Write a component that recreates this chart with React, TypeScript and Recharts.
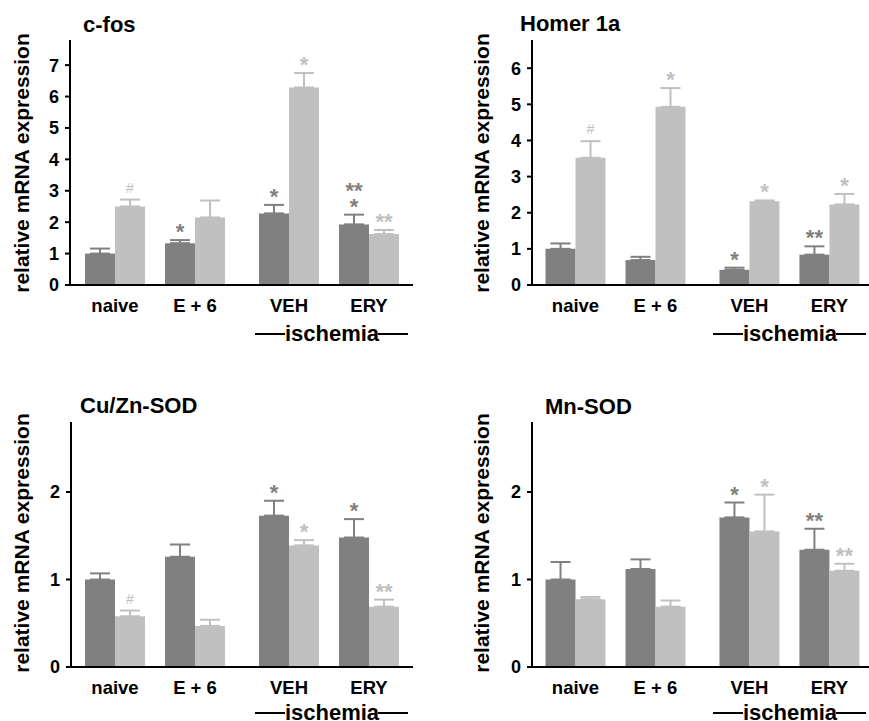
import React from "react";
import { BarChart, Bar, XAxis, YAxis, ErrorBar, LabelList } from "recharts";

const categories = ["naive", "E + 6", "VEH", "ERY"];

// c-fos
const cfosDark = [1.0, 1.33, 2.28, 1.93];
const cfosDarkErr = [0.16, 0.1, 0.27, 0.31];
const cfosLight = [2.5, 2.15, 6.29, 1.62];
const cfosLightErr = [0.22, 0.54, 0.46, 0.13];
const cfosDarkMarks = ["", "*", "*", "**\n*"];
const cfosLightMarks = ["#", "", "*", "**"];

// Homer 1a
const homerDark = [1.0, 0.69, 0.42, 0.84];
const homerDarkErr = [0.15, 0.09, 0.06, 0.23];
const homerLight = [3.52, 4.93, 2.32, 2.23];
const homerLightErr = [0.46, 0.52, 0.02, 0.29];
const homerDarkMarks = ["", "", "*", "**"];
const homerLightMarks = ["#", "*", "*", "*"];

// Cu/Zn-SOD
const cuznDark = [1.0, 1.26, 1.73, 1.48];
const cuznDarkErr = [0.07, 0.14, 0.17, 0.21];
const cuznLight = [0.58, 0.47, 1.39, 0.69];
const cuznLightErr = [0.065, 0.07, 0.06, 0.08];
const cuznDarkMarks = ["", "", "*", "*"];
const cuznLightMarks = ["#", "", "*", "**"];

// Mn-SOD
const mnDark = [1.0, 1.12, 1.71, 1.34];
const mnDarkErr = [0.2, 0.11, 0.17, 0.24];
const mnLight = [0.775, 0.69, 1.55, 1.1];
const mnLightErr = [0.025, 0.07, 0.42, 0.08];
const mnDarkMarks = ["", "", "*", "**"];
const mnLightMarks = ["", "", "*", "**"];

// layout: group centres on the x axis (the ischemia pair sits a bit further out)
const groupPos = [0, 1, 2.175, 3.175];

const FONT = "'Liberation Sans', Arial, Helvetica, sans-serif";
const DARK = "#808080";
const LIGHT = "#c0c0c0";

const makeRows = (dark: number[], darkErr: number[], light: number[], lightErr: number[], darkMarks: string[], lightMarks: string[]) =>
  categories.map((name, i) => ({
    name,
    pos: groupPos[i],
    dark: dark[i],
    darkErr: [0, darkErr[i]],
    light: light[i],
    lightErr: [0, lightErr[i]],
    darkMark: darkMarks[i],
    lightMark: lightMarks[i],
  }));

const makeMark = (values: number[], errs: number[], color: string) => (props: any) => {
  const vb = props.viewBox || {};
  const x = props.x ?? vb.x;
  const y = props.y ?? vb.y;
  const w = props.width ?? vb.width;
  const h = props.height ?? vb.height;
  const i = props.index;
  const mark = props.value;
  if (!mark || i == null) return null;
  const ppu = h / values[i];
  const top = y - errs[i] * ppu;
  const cx = x + w / 2;
  if (mark === "#") {
    return (
      <text x={cx} y={top - 7} textAnchor="middle" fontSize={14} fill={color} fontFamily={FONT}>
        #
      </text>
    );
  }
  const lines = String(mark).split("\n");
  return (
    <g>
      {lines.map((ln, k) => (
        <text
          key={k}
          x={cx}
          y={top - 1 - (lines.length - 1 - k) * 16}
          textAnchor="middle"
          fontSize={22}
          fontWeight="bold"
          fill={color}
          fontFamily={FONT}
        >
          {ln}
        </text>
      ))}
    </g>
  );
};

type PanelProps = {
  title: string;
  dark: number[];
  darkErr: number[];
  light: number[];
  lightErr: number[];
  darkMarks: string[];
  lightMarks: string[];
  yMax: number;
  yTicks: number[];
  left: number;
  top: number;
  width: number;
  height: number;
  marginTop: number;
  marginRight: number;
  marginBottom: number;
  yAxisWidth: number;
  xDomain: [number, number];
  titleX: number;
  titleY: number;
  labelX: number;
  ischemiaX: number;
  ischemiaY: number;
};

function Panel(p: PanelProps) {
  const rows = makeRows(p.dark, p.darkErr, p.light, p.lightErr, p.darkMarks, p.lightMarks);
  return (
    <div style={{ position: "absolute", left: p.left, top: p.top, width: p.width, height: p.height, overflow: "hidden" }}>
      <BarChart
        width={p.width}
        height={p.height}
        data={rows}
        barGap={0}
        margin={{ top: p.marginTop, right: p.marginRight, bottom: p.marginBottom, left: 0 }}
      >
        <XAxis
          type="number"
          dataKey="pos"
          domain={p.xDomain}
          ticks={groupPos}
          interval={0}
          tickFormatter={(v: number, i: number) => categories[i]}
          axisLine={{ stroke: "#000", strokeWidth: 2 }}
          tickLine={false}
          tickSize={0}
          tickMargin={14}
          height={40}
          tick={{ fill: "#000", fontSize: 18.5, fontWeight: "bold", fontFamily: FONT }}
        />
        <YAxis
          width={p.yAxisWidth}
          domain={[0, p.yMax]}
          ticks={p.yTicks}
          interval={0}
          axisLine={{ stroke: "#000", strokeWidth: 2 }}
          tickLine={{ stroke: "#000", strokeWidth: 2 }}
          tickSize={5}
          tickMargin={6}
          tick={{ fill: "#000", fontSize: 18, fontWeight: "bold", fontFamily: FONT }}
        />
        <Bar dataKey="dark" fill={DARK} barSize={30} isAnimationActive={false}>
          <ErrorBar dataKey="darkErr" direction="y" width={10} stroke={DARK} strokeWidth={2} />
          <LabelList dataKey="darkMark" content={makeMark(p.dark, p.darkErr, DARK)} />
        </Bar>
        <Bar dataKey="light" fill={LIGHT} barSize={30} isAnimationActive={false}>
          <ErrorBar dataKey="lightErr" direction="y" width={10} stroke={LIGHT} strokeWidth={2} />
          <LabelList dataKey="lightMark" content={makeMark(p.light, p.lightErr, LIGHT)} />
        </Bar>
      </BarChart>
      <svg
        width={p.width}
        height={p.height}
        style={{ position: "absolute", left: 0, top: 0, pointerEvents: "none" }}
        fontFamily={FONT}
      >
        <text x={p.titleX} y={p.titleY} fontSize={22} fontWeight="bold" fill="#000">
          {p.title}
        </text>
        <text
          transform={`translate(${p.labelX}, 163) rotate(-90)`}
          textAnchor="middle"
          fontSize={21}
          fontWeight="bold"
          fill="#000"
        >
          relative mRNA expression
        </text>
        <line x1={p.ischemiaX - 77} x2={p.ischemiaX - 47} y1={p.ischemiaY - 7} y2={p.ischemiaY - 7} stroke="#000" strokeWidth={2} />
        <line x1={p.ischemiaX + 46} x2={p.ischemiaX + 76} y1={p.ischemiaY - 7} y2={p.ischemiaY - 7} stroke="#000" strokeWidth={2} />
        <text x={p.ischemiaX} y={p.ischemiaY} textAnchor="middle" fontSize={22} fontWeight="bold" fill="#000">
          ischemia
        </text>
      </svg>
    </div>
  );
}

export default function App() {
  return (
    <div style={{ position: "absolute", left: 0, top: 0, width: 869, height: 721, overflow: "hidden", background: "#fff" }}>
      <Panel
        title="c-fos"
        dark={cfosDark}
        darkErr={cfosDarkErr}
        light={cfosLight}
        lightErr={cfosLightErr}
        darkMarks={cfosDarkMarks}
        lightMarks={cfosLightMarks}
        yMax={7.8}
        yTicks={[0, 1, 2, 3, 4, 5, 6, 7]}
        left={0}
        top={0}
        width={430}
        height={360}
        marginTop={40}
        marginRight={17}
        marginBottom={35}
        yAxisWidth={70}
        xDomain={[-0.5625, 3.725]}
        titleX={83}
        titleY={32}
        labelX={29}
        ischemiaX={332}
        ischemiaY={341}
      />
      <Panel
        title="Homer 1a"
        dark={homerDark}
        darkErr={homerDarkErr}
        light={homerLight}
        lightErr={homerLightErr}
        darkMarks={homerDarkMarks}
        lightMarks={homerLightMarks}
        yMax={6.78}
        yTicks={[0, 1, 2, 3, 4, 5, 6]}
        left={430}
        top={0}
        width={439}
        height={360}
        marginTop={40}
        marginRight={0}
        marginBottom={35}
        yAxisWidth={102}
        xDomain={[-0.544, 3.67]}
        titleX={90}
        titleY={31}
        labelX={59}
        ischemiaX={360}
        ischemiaY={341}
      />
      <Panel
        title="Cu/Zn-SOD"
        dark={cuznDark}
        darkErr={cuznDarkErr}
        light={cuznLight}
        lightErr={cuznLightErr}
        darkMarks={cuznDarkMarks}
        lightMarks={cuznLightMarks}
        yMax={2.8}
        yTicks={[0, 1, 2]}
        left={0}
        top={380}
        width={430}
        height={341}
        marginTop={42}
        marginRight={17}
        marginBottom={14}
        yAxisWidth={71}
        xDomain={[-0.55, 3.725]}
        titleX={80}
        titleY={33}
        labelX={29}
        ischemiaX={332}
        ischemiaY={340}
      />
      <Panel
        title="Mn-SOD"
        dark={mnDark}
        darkErr={mnDarkErr}
        light={mnLight}
        lightErr={mnLightErr}
        darkMarks={mnDarkMarks}
        lightMarks={mnLightMarks}
        yMax={2.8}
        yTicks={[0, 1, 2]}
        left={430}
        top={380}
        width={439}
        height={341}
        marginTop={42}
        marginRight={0}
        marginBottom={14}
        yAxisWidth={102}
        xDomain={[-0.544, 3.67]}
        titleX={115}
        titleY={34}
        labelX={59}
        ischemiaX={360}
        ischemiaY={340}
      />
    </div>
  );
}
